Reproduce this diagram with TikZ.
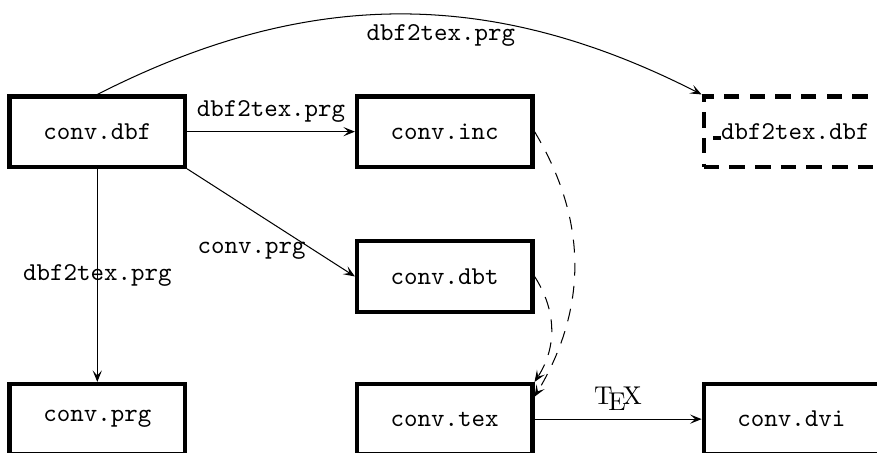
\documentclass[tikz,border=0pt]{standalone}
\usepackage{tikz}
\usetikzlibrary{arrows.meta}
\tikzset{>={Stealth[length=4.5pt,width=3.6pt,inset=2pt]}}
\tikzset{
  box/.style={draw,ultra thick,minimum width=2.4cm,minimum height=0.96cm,font=\ttfamily},
  dbox/.style={box,dash pattern=on 6pt off 4pt},
  prog/.style={font=\ttfamily},
  incl/.style={->,dash pattern=on 5pt off 4pt}
}

\begin{document}
\begin{tikzpicture}
  % page frame
  \useasboundingbox (0,-6.19) rectangle (11.99,0);

  % files
  \node[box]  (dbf)   at (1.33,-1.80)  {conv.dbf};
  \node[box]  (inc)   at (6.08,-1.80)  {conv.inc};
  \node[dbox] (dtdbf) at (10.82,-1.80) {\rule{3pt}{1.2pt}dbf2tex.dbf};
  \node[box]  (dbt)   at (6.08,-3.78)  {conv.dbt};
  \node[box]  (prg)   at (1.33,-5.73)  {conv.prg};
  \node[box]  (tex)   at (6.08,-5.73)  {conv.tex};
  \node[box]  (dvi)   at (10.82,-5.73) {conv.dvi};

  % programs
  \draw[->] (dbf.north) to[bend left=27]
    node[prog,pos=0.57,below] {dbf2tex.prg} (dtdbf.north west);
  \draw[->] (dbf) -- node[prog,above] {dbf2tex.prg} (inc);
  \draw[->] (dbf.south east) -- node[prog,pos=0.76,left] {conv.prg} (dbt.west);
  \draw[->] (dbf) -- node[prog] {dbf2tex.prg} (prg);
  \draw[->] (tex) -- node[above] {\TeX} (dvi);

  % included files
  \draw[incl] (inc.east) to[bend left=31] (tex.14);
  \draw[incl] (dbt.east) to[bend left=33] (tex.north east);
\end{tikzpicture}
\end{document}
